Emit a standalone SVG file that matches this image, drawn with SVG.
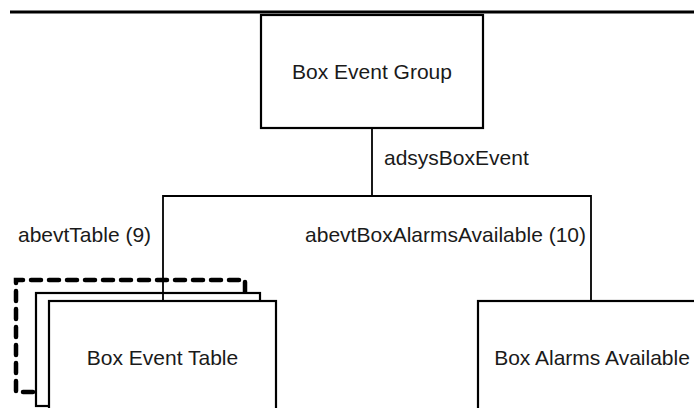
<svg xmlns="http://www.w3.org/2000/svg" width="694" height="408" viewBox="0 0 694 408">
<style>
.box{fill:#fff;stroke:#000;stroke-width:2.2}
.t{font-family:"Liberation Sans",Arial,sans-serif;font-size:21px;fill:#1a1a1a}
.c{text-anchor:middle}
.ln{fill:none;stroke:#000;stroke-width:1.8}
.dash{fill:none;stroke:#000;stroke-width:4.5;stroke-dasharray:10 8;stroke-linecap:round}
</style>
<rect width="694" height="408" fill="#fff"/>
<line x1="10" y1="12" x2="694" y2="12" stroke="#000" stroke-width="2.8"/>
<g id="box-event-group">
<rect class="box" x="261" y="15" width="222" height="113"/>
<text class="t c" x="372" y="79">Box Event Group</text>
</g>
<g id="box-event-table">
<path class="dash" d="M245 292 L245 280 L16 280 L16 392 L36 392"/>
<rect class="box" x="36" y="293" width="224" height="113"/>
<rect class="box" x="49" y="301" width="227" height="120"/>
<text class="t c" x="162.5" y="365">Box Event Table</text>
</g>
<g id="box-alarms-available">
<rect class="box" x="478" y="301" width="228" height="120"/>
<text class="t c" x="592" y="365">Box Alarms Available</text>
</g>
<g id="connectors">
<path class="ln" d="M372 128 L372 196"/>
<path class="ln" d="M163 301 L163 196 L591 196 L591 301"/>
<text class="t" x="384" y="165">adsysBoxEvent</text>
<text class="t" x="18" y="242">abevtTable (9)</text>
<text class="t" x="586" y="242" text-anchor="end">abevtBoxAlarmsAvailable (10)</text>
</g>
</svg>
